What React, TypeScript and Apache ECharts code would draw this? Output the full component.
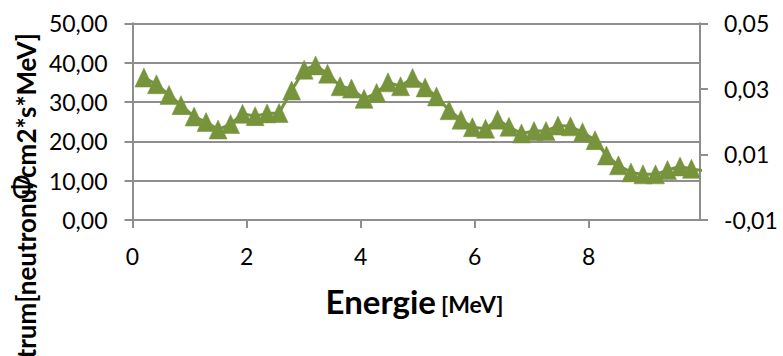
import React, { useEffect, useRef } from "react";
import * as echarts from "echarts";

// Energy [MeV] of each point
const energies: number[] = [
  0.2, 0.42, 0.64, 0.85, 1.08, 1.29, 1.5, 1.72, 1.93, 2.15,
  2.36, 2.57, 2.79, 3.01, 3.21, 3.42, 3.64, 3.84, 4.06, 4.28,
  4.48, 4.7, 4.91, 5.13, 5.33, 5.55, 5.76, 5.96, 6.19, 6.4,
  6.6, 6.82, 7.04, 7.25, 7.46, 7.68, 7.89, 8.11, 8.31, 8.52,
  8.74, 8.95, 9.17, 9.38, 9.6, 9.8, 10.01,
];
// Spectrum values
const spectrum: number[] = [
  36.2, 34.5, 31.8, 29.2, 26.3, 24.9, 23.0, 24.4, 27.0, 26.4,
  27.1, 27.2, 32.9, 38.2, 39.3, 37.2, 34.0, 33.4, 30.8, 32.3,
  35.0, 34.0, 36.1, 33.7, 31.4, 27.9, 25.5, 23.6, 23.2, 25.5,
  23.7, 22.0, 22.6, 22.6, 24.0, 23.8, 22.3, 20.3, 16.4, 13.9,
  12.1, 11.6, 11.6, 12.7, 13.6, 13.0, 12.5,
];
const xTicks = { min: 0, max: 9.95, interval: 2 };
const leftTicks = { min: 0, max: 50, interval: 10 };
// right axis labels: -0,01 .. 0,05 step 0,02 (mapped onto 0..6 step 2)
const rightTickLabels: string[] = ["-0,01", "0,01", "0,03", "0,05"];

const GREEN = "#77933C";
const GRID = "#8e8e8e";
const FONT = "Lato";

export default function App() {
  const ref = useRef<HTMLDivElement>(null);
  useEffect(() => {
    if (!ref.current) return;
    const chart = echarts.init(ref.current, undefined, { renderer: "svg" });
    const data = energies.map((e, i) => [e, spectrum[i]]);
    chart.setOption({
      animation: false,
      backgroundColor: "#ffffff",
      grid: { left: 132.5, right: 83, top: 23.3, bottom: 136, containLabel: false },
      xAxis: {
        type: "value",
        min: xTicks.min,
        max: xTicks.max,
        interval: xTicks.interval,
        axisLine: { show: true, lineStyle: { color: GRID, width: 2 } },
        axisTick: { show: true, length: 8, lineStyle: { color: GRID, width: 2 } },
        splitLine: { show: false },
        axisLabel: {
          margin: 24,
          color: "#000",
          fontFamily: FONT,
          fontSize: 23,
          showMaxLabel: false,
          formatter: (v: number) => (Number.isInteger(v) ? String(v) : ""),
        },
      },
      yAxis: [
        {
          type: "value",
          min: leftTicks.min,
          max: leftTicks.max,
          interval: leftTicks.interval,
          position: "left",
          axisLine: { show: true, lineStyle: { color: GRID, width: 2 } },
          axisTick: { show: true, length: 8, lineStyle: { color: GRID, width: 2 } },
          splitLine: { show: true, lineStyle: { color: GRID, width: 2 } },
          axisLabel: {
            margin: 25,
            color: "#000",
            fontFamily: FONT,
            fontSize: 23,
            formatter: (v: number) => v.toFixed(2).replace(".", ","),
          },
        },
        {
          type: "value",
          min: 0,
          max: 6,
          interval: 2,
          position: "right",
          axisLine: { show: true, lineStyle: { color: GRID, width: 2 } },
          axisTick: { show: true, length: 8, lineStyle: { color: GRID, width: 2 } },
          splitLine: { show: false },
          axisLabel: {
            margin: 24,
            color: "#000",
            fontFamily: FONT,
            fontSize: 23,
            formatter: (v: number) => rightTickLabels[Math.round(v / 2)] ?? "",
          },
        },
      ],
      series: [
        {
          type: "line",
          yAxisIndex: 0,
          data,
          clip: true,
          symbol: "triangle",
          symbolSize: [18, 19],
          showAllSymbol: true,
          lineStyle: { color: GREEN, width: 3 },
          itemStyle: { color: GREEN, borderColor: GREEN, borderWidth: 0.5 },
        },
      ],
      graphic: [
        {
          type: "text",
          x: 436,
          y: 301,
          style: {
            text: "Energie",
            fontFamily: FONT,
            fontWeight: "bold",
            fontSize: 33,
            fill: "#000",
            align: "right",
            verticalAlign: "middle",
          },
        },
        {
          type: "text",
          x: 441,
          y: 304,
          style: {
            text: "[MeV]",
            fontFamily: FONT,
            fontWeight: "bold",
            fontSize: 23,
            fill: "#000",
            align: "left",
            verticalAlign: "middle",
          },
        },
        {
          type: "text",
          x: 26,
          y: 33,
          rotation: Math.PI / 2,
          style: {
            text: "Spektrum[neutronu/cm2*s*MeV]",
            fontFamily: FONT,
            fontWeight: "bold",
            fontSize: 26,
            fill: "#000",
            align: "right",
            verticalAlign: "middle",
          },
        },
        {
          type: "text",
          x: 21,
          y: 187,
          rotation: Math.PI / 2,
          style: {
            text: "Φ",
            fontFamily: "Noto Sans",
            fontSize: 31,
            fill: "#000",
            align: "center",
            verticalAlign: "middle",
          },
        },
      ],
    });
    return () => chart.dispose();
  }, []);
  return (
    <div
      ref={ref}
      style={{ position: "fixed", left: 0, top: 0, width: 783, height: 356 }}
    />
  );
}
